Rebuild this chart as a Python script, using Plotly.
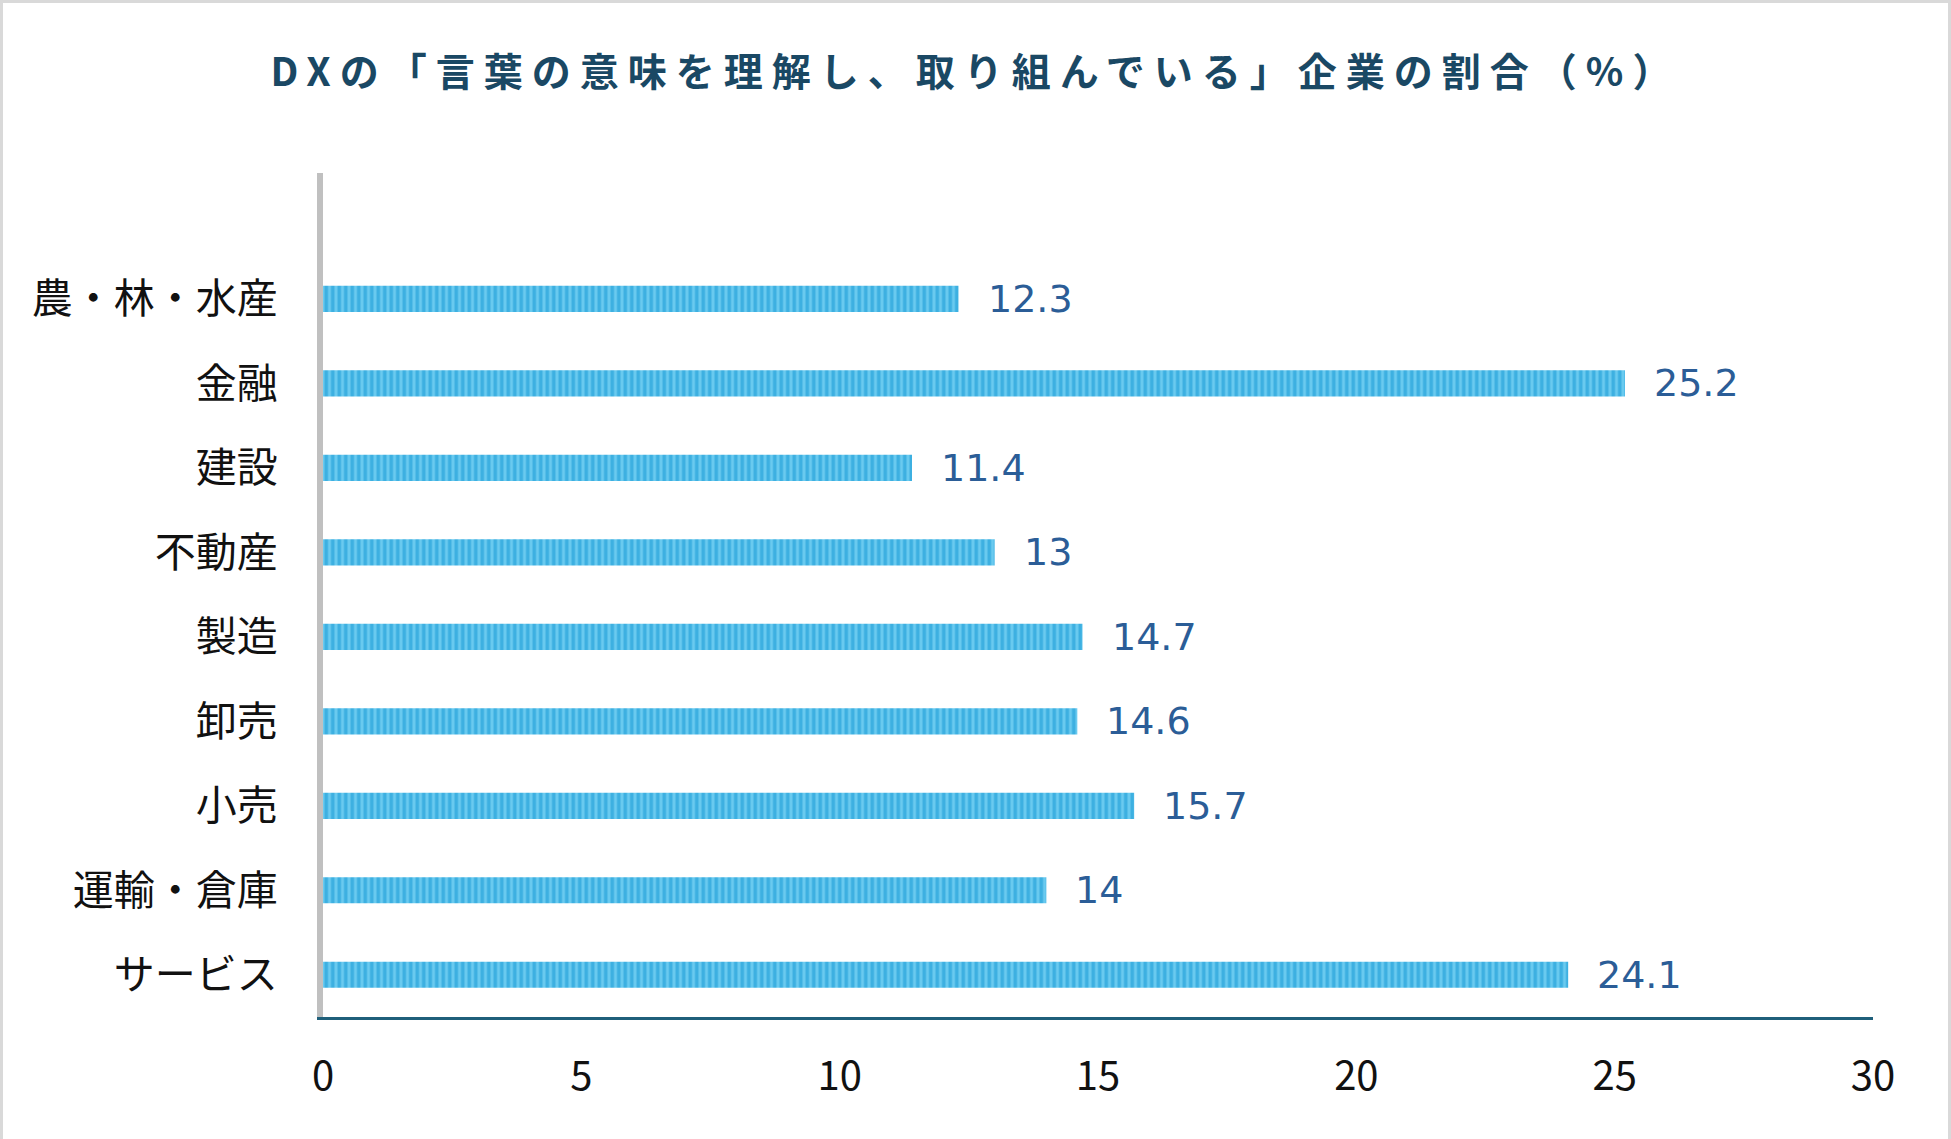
import plotly.graph_objects as go

categories = ["農・林・水産", "金融", "建設", "不動産", "製造", "卸売", "小売", "運輸・倉庫", "サービス"]
values = [12.3, 25.2, 11.4, 13, 14.7, 14.6, 15.7, 14, 24.1]
x_ticks = [0, 5, 10, 15, 20, 25, 30]
title_text = "DXの「言葉の意味を理解し、取り組んでいる」企業の割合（%）"

W, H = 1951, 1139
ml, mr, mt, mb = 323, 78, 173, 122
pw, ph = W - ml - mr, H - mt - mb

fig = go.Figure()
fig.add_trace(go.Bar(
    x=values, y=categories, orientation="h", width=0.31,
    marker=dict(
        color="#6acaef",
        line=dict(width=0),
        pattern=dict(shape="|", fillmode="overlay", fgcolor="#0f96d3",
                     size=6.5, solidity=0.55),
    ),
    hoverinfo="skip",
))

for v, c in zip(values, categories):
    fig.add_annotation(x=v, y=c, text=f"{v:g}", xanchor="left", yanchor="middle",
                       xshift=27, showarrow=False,
                       font=dict(family="DejaVu Sans", size=38, color="#2b5d97"))

# figure border
fig.add_shape(type="rect", xref="paper", yref="paper",
              x0=(1.5 - ml) / pw, x1=(W - 1.5 - ml) / pw,
              y0=(mb - H + 1.5) / ph, y1=(H - mb - 1.5) / ph,
              line=dict(color="#d9d9d9", width=3), fillcolor="rgba(0,0,0,0)", layer="below")

fig.update_layout(
    width=W, height=H,
    margin=dict(l=ml, r=mr, t=mt, b=mb, autoexpand=False),
    paper_bgcolor="white", plot_bgcolor="white",
    showlegend=False,
    title=dict(text=title_text, x=0.5, xref="container", xanchor="center",
               y=1 - 72 / H, yref="container", yanchor="middle",
               font=dict(family="Noto Sans CJK JP", size=39, color="#1a4864", weight="bold")),
    xaxis=dict(range=[0, 30], tickvals=x_ticks, ticktext=[str(t) for t in x_ticks],
               showgrid=False, zeroline=False, showline=True, linecolor="#1f5f7a", linewidth=3,
               ticks="", ticklabelstandoff=22,
               tickfont=dict(family="Noto Sans CJK JP", size=40, color="#111111")),
    yaxis=dict(type="category", categoryorder="array", categoryarray=categories,
               range=[8.5, -1.49], showgrid=False, zeroline=False,
               showline=True, linecolor="#c0c0c0", linewidth=6,
               ticks="", ticklabelstandoff=31,
               tickfont=dict(family="Noto Sans CJK JP", size=41, color="#111111")),
)

post = """
document.body.style.margin = '0';
var gd = document.getElementById('{plot_id}');
function ls(){ var t = gd.querySelector('.gtitle'); if (t) { t.style.letterSpacing = '9px'; } }
ls();
gd.on('plotly_afterplot', ls);
"""
fig.write_html("out.html", post_script=post, config={"displayModeBar": False})
